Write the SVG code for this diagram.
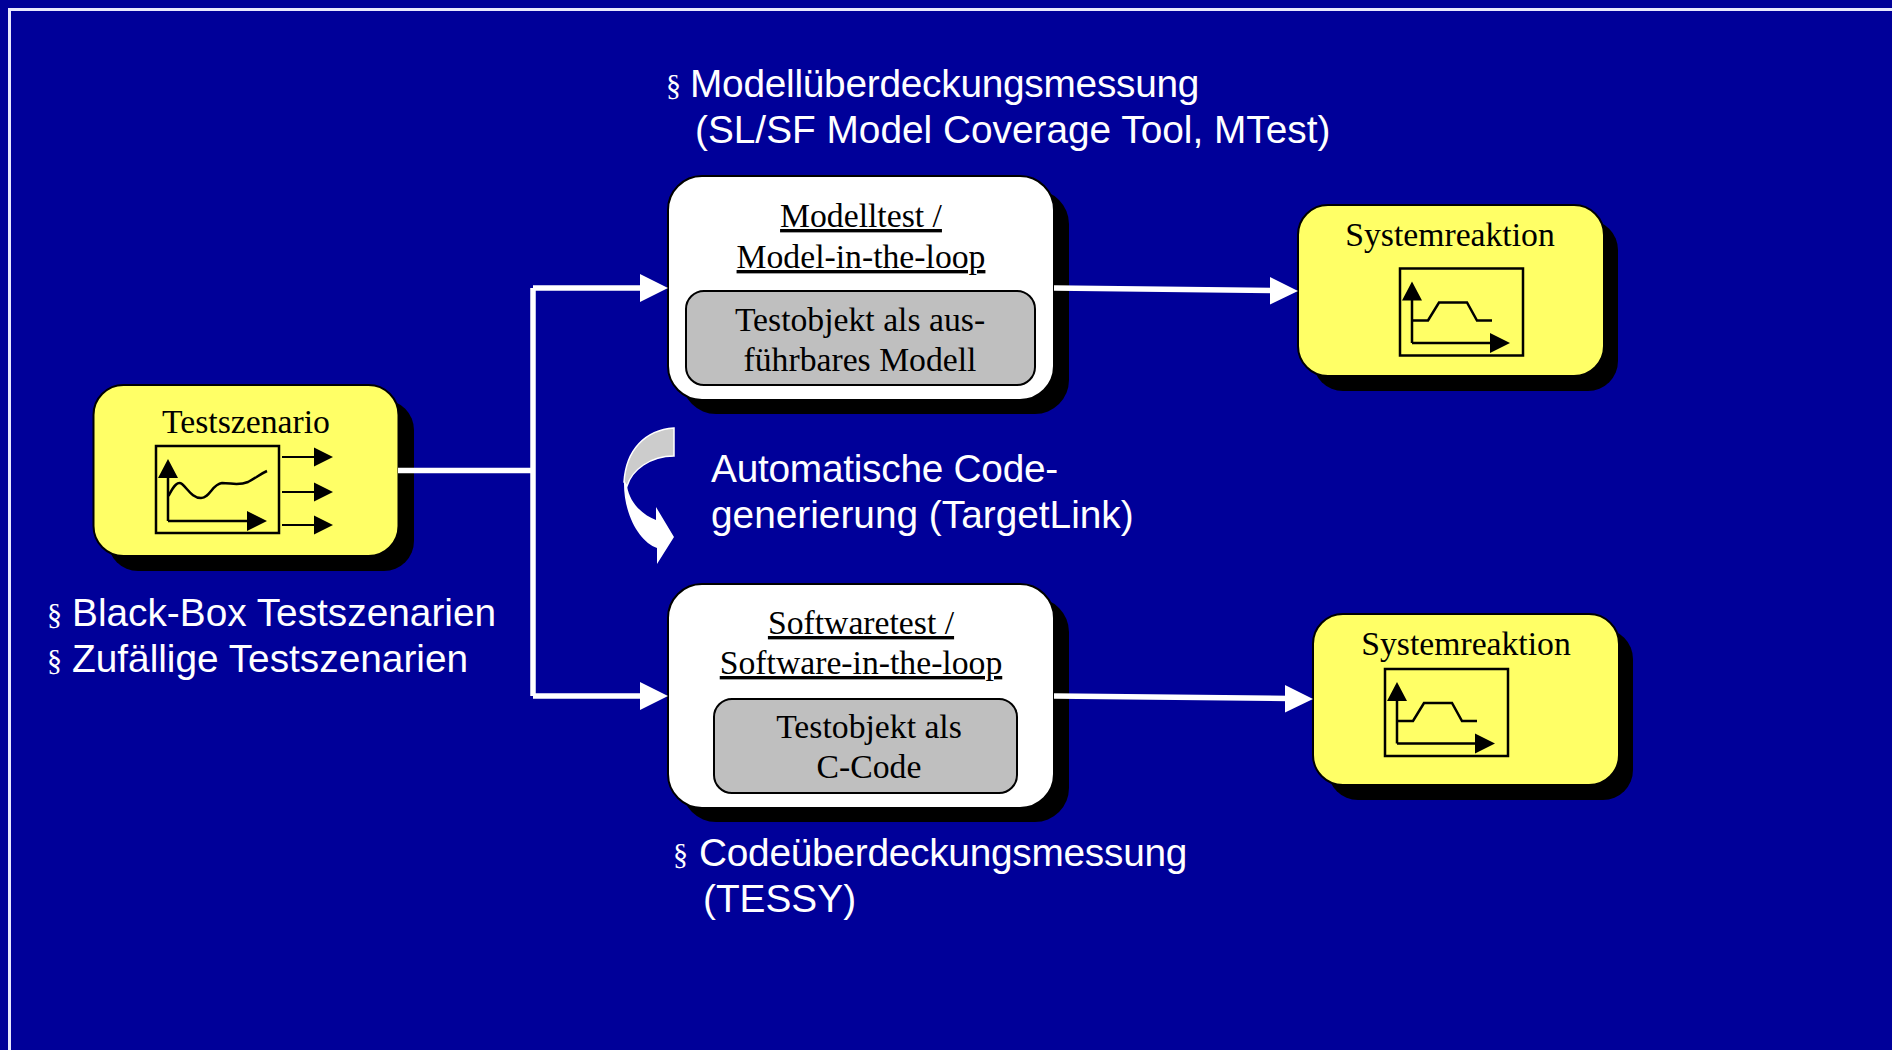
<svg xmlns="http://www.w3.org/2000/svg" width="1892" height="1050" viewBox="0 0 1892 1050">
<style>
.sh{fill:#000;stroke:none}
.y{fill:#ffff66;stroke:#000;stroke-width:2}
.w{fill:#fff;stroke:#000;stroke-width:2}
.g{fill:#bfbfbf;stroke:#000;stroke-width:2}
.frame{fill:none;stroke:#000;stroke-width:2.500}
.ln{fill:none;stroke:#000;stroke-width:2.500}
.thin{fill:none;stroke:#000;stroke-width:2}
.hd{fill:#000;stroke:none}
.c{fill:none;stroke:#fff;stroke-width:5.500}
.ch{fill:#fff;stroke:none}
text{font-family:"Liberation Serif","Times New Roman",serif;fill:#000;font-size:33.700px;text-anchor:middle}
.s{font-family:"Liberation Sans",Arial,sans-serif;fill:#fff;font-size:38.800px;text-anchor:start}
.t{letter-spacing:-0.25px}
.b{fill:#fff;font-size:30px;text-anchor:start}
.u{text-decoration:underline}
</style>
<defs>
<g id="resp">
<rect class="frame" x="0" y="0" width="123" height="87"/>
<path class="ln" d="M12 74.500V28M12 74.500H95"/>
<path class="hd" d="M12 13L22 32H2ZM110 74.500L90 84.500V64.500Z"/>
<path class="ln" d="M13 52H28L39 34H67L77 52H92"/>
</g>
</defs>
<rect x="0" y="0" width="1892" height="1050" fill="#000099"/>
<path d="M9.500 1050V9.500H1892" fill="none" stroke="#e8e8ff" stroke-width="3"/>

<g id="testszenario">
<rect class="sh" x="108" y="400" width="306" height="171" rx="30"/>
<rect class="y" x="93.500" y="385" width="305" height="171" rx="30"/>
<text x="246" y="433">Testszenario</text>
<rect class="frame" x="156" y="446" width="123" height="87"/>
<path class="ln" d="M168 521V475M168 521H250"/>
<path class="hd" d="M168 459L178 478H158ZM267 521L247 531V511Z"/>
<path class="ln" d="M168.500 496C174 485 178 481 182 484C188 489 192 498 201 498C210 498 212 484 222 483C232 483 238 486 248 482C256 478 260 474 267 471"/>
<path class="thin" d="M282 457H316M282 492H316M282 525H316"/>
<path class="hd" d="M333 457L314 447.500V466.500ZM333 492L314 482.500V501.500ZM333 525L314 515.500V534.500Z"/>
</g>

<g id="modelltest">
<rect class="sh" x="682" y="190" width="387" height="224" rx="34"/>
<rect class="w" x="668" y="176" width="386" height="224" rx="34"/>
<text class="u" x="861" y="227">Modelltest /</text>
<text class="u" x="861" y="268">Model-in-the-loop</text>
<rect class="g" x="686" y="291" width="349" height="94" rx="18"/>
<text x="860" y="331">Testobjekt als aus-</text>
<text x="860" y="371">führbares Modell</text>
</g>

<g id="softwaretest">
<rect class="sh" x="682" y="598" width="387" height="224" rx="34"/>
<rect class="w" x="668" y="584" width="386" height="224" rx="34"/>
<text class="u" x="861" y="634">Softwaretest /</text>
<text class="u" x="861" y="674">Software-in-the-loop</text>
<rect class="g" x="714" y="699" width="303" height="94" rx="18"/>
<text x="869" y="738">Testobjekt als</text>
<text x="869" y="778">C-Code</text>
</g>

<g id="systemreaktion1">
<rect class="sh" x="1313" y="220" width="305" height="171" rx="30"/>
<rect class="y" x="1298" y="205" width="306" height="171" rx="30"/>
<text x="1450" y="246">Systemreaktion</text>
<use href="#resp" x="1400" y="268.500"/>
</g>

<g id="systemreaktion2">
<rect class="sh" x="1328" y="629" width="305" height="171" rx="30"/>
<rect class="y" x="1313" y="614" width="306" height="171" rx="30"/>
<text x="1466" y="655">Systemreaktion</text>
<use href="#resp" x="1385" y="669"/>
</g>

<g id="connectors">
<path class="c" d="M398 470.500H533M533 288V696M533 288H645M533 696H645"/>
<path class="ch" d="M668 288L640 274V302ZM668 696L640 682V710Z"/>
<path class="c" d="M1054 288L1274 290.500M1054 696L1290 698.500"/>
<path class="ch" d="M1298 291L1270 277V304.500ZM1313 699L1285 685V712.500Z"/>
</g>

<g id="codegen-arrow">
<path d="M674 428C645 430 626 450 624 482L627 486C632 470 650 456 674 456Z" fill="#cccccc" stroke="#fff" stroke-width="1.500"/>
<path d="M624 480C623 515 640 542 657 548V564L674 537L656 507V520C645 516 630 505 627 486Z" fill="#fff"/>
</g>

<g id="labels">
<text class="b" x="666" y="95">§</text>
<text class="s t" x="690" y="96.500">Modellüberdeckungsmessung</text>
<text class="s" x="695" y="143">(SL/SF Model Coverage Tool, MTest)</text>
<text class="s t" x="711" y="482">Automatische Code-</text>
<text class="s" x="711" y="528">generierung (TargetLink)</text>
<text class="b" x="47" y="624">§</text>
<text class="s" x="72" y="626">Black-Box Testszenarien</text>
<text class="b" x="47" y="670">§</text>
<text class="s" x="72" y="672">Zufällige Testszenarien</text>
<text class="b" x="673" y="864">§</text>
<text class="s t" x="699" y="866">Codeüberdeckungsmessung</text>
<text class="s" x="703" y="912">(TESSY)</text>
</g>
</svg>
